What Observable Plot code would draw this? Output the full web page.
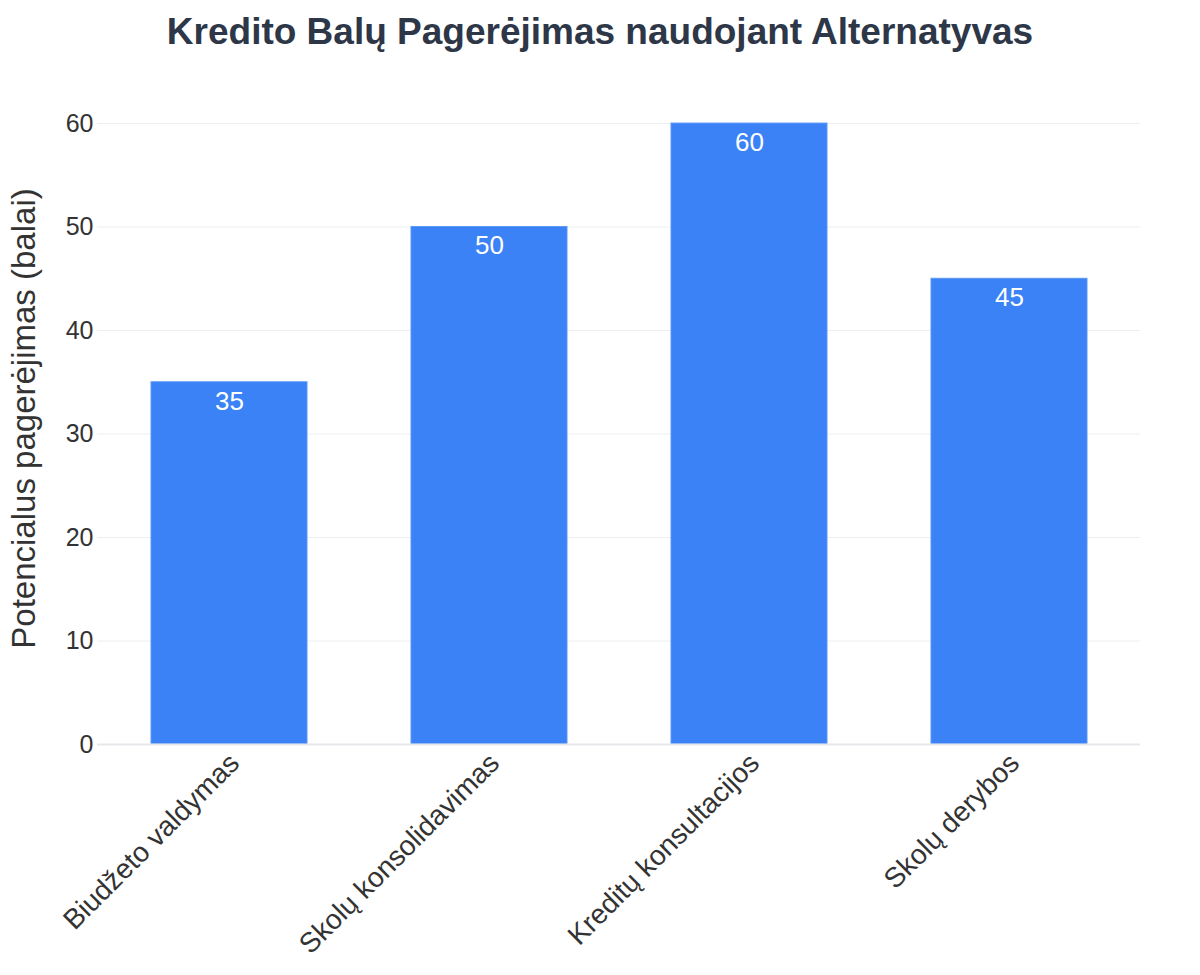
<!DOCTYPE html>
<html>
<head>
<meta charset="utf-8">
<script src="https://cdn.jsdelivr.net/npm/d3@7"></script>
<script src="https://cdn.jsdelivr.net/npm/@observablehq/plot@0.6"></script>
<style>
  html, body { margin: 0; padding: 0; background: #fff; }
  body { width: 1200px; font-family: "Liberation Sans", Arial, sans-serif; }
  #title { height: 75px; line-height: 64px; text-align: center; font-size: 37px; font-weight: bold; color: #2d3748; }
  svg [aria-label="y-axis label"] text { font-size: 33px; }
</style>
</head>
<body>
<div id="title">Kredito Balų Pagerėjimas naudojant Alternatyvas</div>
<div id="chart"></div>
<script>
const categories = ["Biudžeto valdymas", "Skolų konsolidavimas", "Kreditų konsultacijos", "Skolų derybos"];
const values = [35, 50, 60, 45];
const yTicks = [0, 10, 20, 30, 40, 50, 60];

const data = categories.map((c, i) => ({category: c, value: values[i]}));

const chart = Plot.plot({
  width: 1200,
  height: 900,
  marginTop: 17,
  marginBottom: 231,
  marginLeft: 97,
  marginRight: 60,
  style: {fontFamily: "'Liberation Sans', Arial, sans-serif", color: "#333"},
  x: {domain: categories, paddingInner: 0.4, paddingOuter: 0.2, label: null},
  y: {domain: [0, 63], label: "Potencialus pagerėjimas (balai)"},
  marks: [
    Plot.gridY(yTicks, {stroke: "#eceef1", strokeOpacity: 1, strokeWidth: 1}),
    Plot.barY(data, {x: "category", y: "value", fill: "#3b82f6", stroke: "#5a97f7", strokeWidth: 1}),
    Plot.ruleY([0], {stroke: "#e5e7eb", strokeWidth: 2}),
    Plot.text(data, {x: "category", y: "value", text: d => String(d.value), dy: 19, fill: "white", fontSize: 26}),
    Plot.axisY({ticks: yTicks, tickSize: 0, tickPadding: 4, fontSize: 25, label: "Potencialus pagerėjimas (balai)", labelAnchor: "center", labelArrow: "none", labelOffset: 86}),
    Plot.axisX({tickSize: 0, tickRotate: -45, tickPadding: 14, dx: 5, fontSize: 28, label: null})
  ]
});
document.getElementById("chart").appendChild(chart);
</script>
</body>
</html>
